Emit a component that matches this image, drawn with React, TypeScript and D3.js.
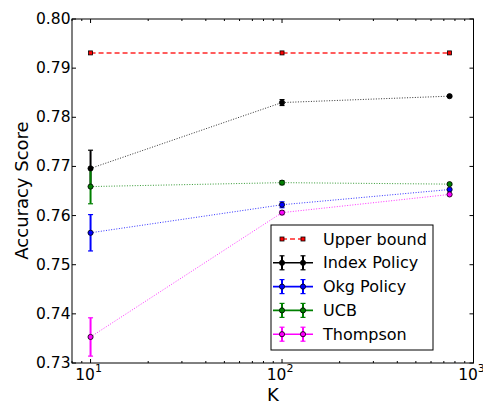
import React from "react";
import * as d3 from "d3";

const kValues = [10, 100, 750];
const upperBound = [0.7931, 0.7931, 0.7931];
const indexPolicy = [0.7696, 0.783, 0.7843];
const indexErr = [0.0037, 0.0006, 0.0002];
const okgPolicy = [0.7565, 0.7622, 0.7653];
const okgErr = [0.0037, 0.0006, 0.0002];
const ucb = [0.7659, 0.7667, 0.7664];
const ucbErr = [0.0035, 0.0004, 0.0002];
const thompson = [0.7353, 0.7606, 0.7643];
const thompsonErr = [0.0039, 0.0004, 0.0002];
const yTicks = [0.73, 0.74, 0.75, 0.76, 0.77, 0.78, 0.79, 0.8];
const xMajor = [10, 100, 1000];
const xMajorExp = ["1", "2", "3"];
const legendLabels = ["Upper bound", "Index Policy", "Okg Policy", "UCB", "Thompson"];

const series = [
  { name: "Index Policy", values: indexPolicy, err: indexErr, color: "#000000" },
  { name: "Okg Policy", values: okgPolicy, err: okgErr, color: "#0000ff" },
  { name: "UCB", values: ucb, err: ucbErr, color: "#008000" },
  { name: "Thompson", values: thompson, err: thompsonErr, color: "#ff00ff" },
];

const W = 483;
const H = 402;
const L = 72, R = 473.5, T = 19, B = 363;
const FONT = "DejaVu Sans, sans-serif";

export default function App() {
  const x = d3.scaleLog().domain([8, 1000]).range([L, R]);
  const y = d3.scaleLinear().domain([0.73, 0.8]).range([B, T]);
  const line = d3
    .line<number>()
    .x((_, i) => x(kValues[i]))
    .y((d) => y(d));

  const minor: number[] = [];
  for (const dec of [1, 10, 100]) {
    for (let m = 2; m <= 9; m++) {
      const v = dec * m;
      if (v >= 8 && v < 1000 && v !== 10 && v !== 100) minor.push(v);
    }
  }

  const legX = 271, legY = 225, legW = 162, legH = 125;
  const rowY = (i: number) => 239 + i * 23.8;
  const m1 = 282, m2 = 303;

  return (
    <svg
      width={W}
      height={H}
      style={{ position: "absolute", left: 0, top: 0, background: "#fff" }}
      fontFamily={FONT}
    >
      <rect x={0} y={0} width={W} height={H} fill="#fff" />
      {/* upper bound */}
      <path d={line(upperBound) || ""} fill="none" stroke="#ff0000" strokeOpacity={0.85} strokeWidth={1.5} strokeDasharray="5,3" />
      {kValues.map((k, i) => (
        <rect key={"ub" + i} x={x(k) - 2} y={y(upperBound[i]) - 2} width={4} height={4} fill="#ff0000" stroke="#000" strokeWidth={0.8} />
      ))}
      {/* lines */}
      {series.map((s) => (
        <path key={"l" + s.name} d={line(s.values) || ""} fill="none" stroke={s.color} strokeOpacity={0.8} strokeWidth={1} strokeDasharray="1,1.6" />
      ))}
      {/* error bars */}
      {series.map((s) =>
        kValues.map((k, i) => {
          const cx = x(k);
          const y1 = y(s.values[i] + s.err[i]);
          const y2 = y(s.values[i] - s.err[i]);
          return (
            <g key={"e" + s.name + i} stroke={s.color}>
              <line x1={cx} x2={cx} y1={y1} y2={y2} strokeWidth={2} />
              <line x1={cx - 2.5} x2={cx + 2.5} y1={y1} y2={y1} strokeWidth={1.2} />
              <line x1={cx - 2.5} x2={cx + 2.5} y1={y2} y2={y2} strokeWidth={1.2} />
            </g>
          );
        })
      )}
      {/* markers */}
      {series.map((s) =>
        kValues.map((k, i) => (
          <circle key={"m" + s.name + i} cx={x(k)} cy={y(s.values[i])} r={2.6} fill={s.color} stroke="#000" strokeWidth={0.8} />
        ))
      )}
      {/* frame */}
      <rect x={L} y={T} width={R - L} height={B - T} fill="none" stroke="#000" strokeWidth={1} />
      {/* y ticks */}
      {yTicks.map((t) => (
        <g key={"yt" + t}>
          <line x1={L} x2={L + 4} y1={y(t)} y2={y(t)} stroke="#000" />
          <line x1={R} x2={R - 4} y1={y(t)} y2={y(t)} stroke="#000" />
          <text x={70.5} y={y(t)} textAnchor="end" dominantBaseline="central" fontSize={15.5} fill="#000">
            {t.toFixed(2)}
          </text>
        </g>
      ))}
      {/* x ticks */}
      {xMajor.map((t, i) => (
        <g key={"xt" + t}>
          <line x1={x(t)} x2={x(t)} y1={B} y2={B - 4} stroke="#000" />
          <line x1={x(t)} x2={x(t)} y1={T} y2={T + 4} stroke="#000" />
          <text x={x(t) - 2} y={380} textAnchor="middle" fontSize={15.5} fill="#000">
            10
            <tspan dy={-8} fontSize={11}>{xMajorExp[i]}</tspan>
          </text>
        </g>
      ))}
      {minor.map((t) => (
        <g key={"mt" + t}>
          <line x1={x(t)} x2={x(t)} y1={B} y2={B - 2} stroke="#000" />
          <line x1={x(t)} x2={x(t)} y1={T} y2={T + 2} stroke="#000" />
        </g>
      ))}
      {/* axis labels */}
      <text x={273} y={401} textAnchor="middle" fontSize={18} fill="#000">K</text>
      <text transform={`translate(28,190.5) rotate(-90)`} textAnchor="middle" fontSize={18} fill="#000">
        Accuracy Score
      </text>
      {/* legend */}
      <rect x={legX} y={legY} width={legW} height={legH} fill="#fff" stroke="#000" strokeWidth={1} />
      <g>
        <line x1={m1} x2={m2} y1={rowY(0)} y2={rowY(0)} stroke="#ff0000" strokeOpacity={0.85} strokeWidth={1.5} strokeDasharray="5,3" />
        <rect x={m1 - 2} y={rowY(0) - 2} width={4} height={4} fill="#ff0000" stroke="#000" strokeWidth={0.8} />
        <rect x={m2 - 2} y={rowY(0) - 2} width={4} height={4} fill="#ff0000" stroke="#000" strokeWidth={0.8} />
        <text x={323} y={rowY(0)} dominantBaseline="central" fontSize={16} fill="#000">{legendLabels[0]}</text>
      </g>
      {series.map((s, j) => {
        const yy = rowY(j + 1);
        return (
          <g key={"lg" + s.name}>
            <line x1={273} x2={313} y1={yy} y2={yy} stroke={s.color} strokeWidth={1.6} />
            {[m1, m2].map((mx) => (
              <g key={mx} stroke={s.color}>
                <line x1={mx} x2={mx} y1={yy - 7} y2={yy + 7} strokeWidth={2} />
                <line x1={mx - 2.5} x2={mx + 2.5} y1={yy - 7} y2={yy - 7} strokeWidth={1.2} />
                <line x1={mx - 2.5} x2={mx + 2.5} y1={yy + 7} y2={yy + 7} strokeWidth={1.2} />
                <circle cx={mx} cy={yy} r={2.6} fill={s.color} stroke="#000" strokeWidth={0.8} />
              </g>
            ))}
            <text x={323} y={yy} dominantBaseline="central" fontSize={16} fill="#000">{legendLabels[j + 1]}</text>
          </g>
        );
      })}
    </svg>
  );
}
